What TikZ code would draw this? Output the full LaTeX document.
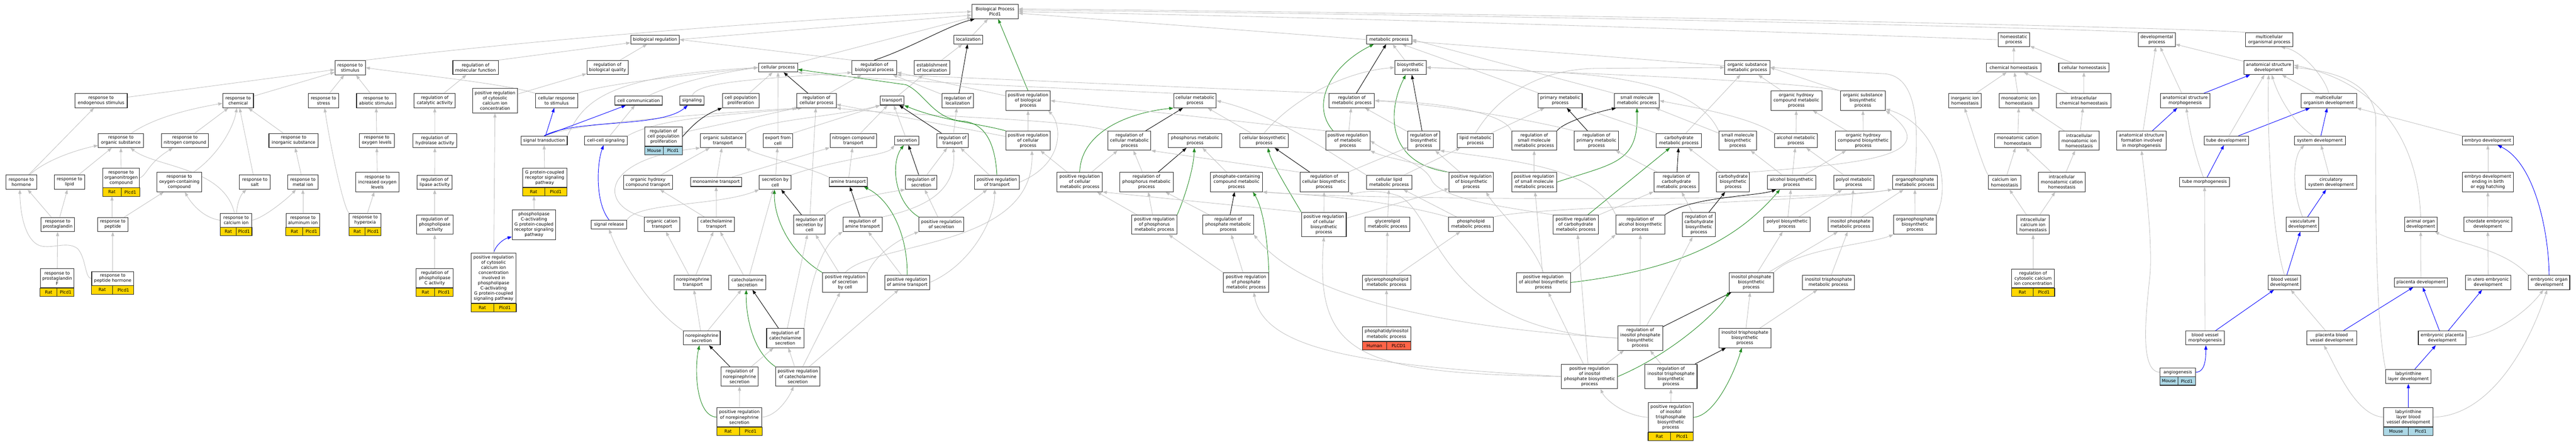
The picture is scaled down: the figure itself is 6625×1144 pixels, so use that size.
\documentclass[tikz,border=0pt]{standalone}
\usepackage{fontspec}
\setmainfont{DejaVu Sans}
\usetikzlibrary{arrows.meta,calc}
\definecolor{egray}{RGB}{192,192,192}
\definecolor{ggreen}{RGB}{34,139,34}
\definecolor{gblue}{RGB}{0,0,255}
\definecolor{ratc}{RGB}{255,215,0}
\definecolor{mousec}{RGB}{173,216,230}
\definecolor{humanc}{RGB}{255,99,71}
\definecolor{gobord}{RGB}{40,40,40}
\newcommand{\gofont}{\fontsize{11.15pt}{13.4pt}\selectfont}
\pgfdeclarelayer{bglayer}
\pgfdeclarelayer{edgelayer}
\pgfsetlayers{bglayer,edgelayer,main}
\tikzset{
  gonode/.style={draw=gobord,line width=1.4pt,fill=white,rectangle,align=center,inner sep=0pt,font=\gofont},
  gobarbox/.style={rectangle,inner sep=0pt,minimum height=21pt,draw=none},
  gocell/.style={draw=gobord,line width=1.4pt},
  gobartext/.style={inner sep=0pt,font=\gofont},
  ge/.style={draw=egray,line width=1.1pt,-{Triangle[length=11pt,width=8pt]}},
  gk/.style={draw=black,line width=1.2pt,-{Triangle[length=11pt,width=8pt]}},
  gg/.style={draw=ggreen,line width=1.2pt,-{Triangle[length=11pt,width=8pt]}},
  gu/.style={draw=gblue,line width=1.2pt,-{Triangle[length=11pt,width=8pt]}}
}
\newcommand{\gn}[6]{\node[gonode,minimum width=#4pt,minimum height=#5pt] (#1) at (#2,#3) {#6};}
\newcommand{\gobar}[5]{%
  \node[gobarbox,minimum width=#2pt,anchor=north] (#1b) at (#1.south) {};
  \filldraw[gocell,fill=#3] (#1b.north west) rectangle (#1b.south);
  \filldraw[gocell,fill=#3] (#1b.north) rectangle (#1b.south east);
  \node[gobartext] (#1s) at ($(#1b.north west)!0.5!(#1b.south)$) {#4};
  \node[gobartext] (#1g) at ($(#1b.north)!0.5!(#1b.south east)$) {#5};
}
\begin{document}
\begin{tikzpicture}[x=1pt,y=-1pt]
\useasboundingbox (0,0) rectangle (6625,1144);
\begin{pgfonlayer}{bglayer}
\fill[white] (0,0) rectangle (6625,1144);
\end{pgfonlayer}
% ---------- row 0-2
\gn{root}{2559}{30}{119.3}{36.5}{Biological Process\\Plcd1}
\gn{bioreg}{1684.5}{101.7}{125}{22.6}{biological regulation}
\gn{local}{2490.5}{101.7}{74}{22.6}{localization}
\gn{metproc}{3572.3}{101.7}{116.7}{22.6}{metabolic process}
\gn{homeo}{5179.2}{102.1}{81.6}{36.5}{homeostatic\\process}
\gn{devproc}{5546.9}{102.1}{95}{36.5}{developmental\\process}
\gn{multiorg}{5836.1}{102.1}{122.4}{36.5}{multicellular\\organismal process}
\gn{stim}{900.5}{174}{78}{37}{response to\\stimulus}
\gn{molfunc}{1223}{173.6}{116.7}{36.5}{regulation of\\molecular function}
\gn{bioqual}{1562.5}{173.6}{106.5}{36.5}{regulation of\\biological quality}
\gn{cellproc}{2001}{173.7}{100.8}{23.3}{cellular process}
\gn{regbioproc}{2248.8}{173.6}{114.8}{36.5}{regulation of\\biological process}
\gn{estloc}{2397}{173.6}{91.2}{36.5}{establishment\\of localization}
\gn{biosyn}{3627.4}{173.6}{80.4}{36.5}{biosynthetic\\process}
\gn{orgsubmet}{4493.8}{173.6}{116.1}{36.5}{organic substance\\metabolic process}
\gn{chemhomeo}{5178.9}{173.6}{139.7}{23.3}{chemical homeostasis}
\gn{cellhomeo}{5359.4}{173.6}{129.5}{23.3}{cellular homeostasis}
\gn{anatdev}{5834.5}{173.6}{128.2}{36.5}{anatomical structure\\development}
% ---------- row 3
\gn{endo}{260}{259}{134.5}{36.5}{response to\\endogenous stimulus}
\gn{chem}{612.4}{259}{79}{36.5}{response to\\chemical}
\gn{stress}{832}{259}{78.5}{36.5}{response to\\stress}
\gn{abiotic}{967.4}{259}{101}{36.5}{response to\\abiotic stimulus}
\gn{catal}{1118}{259}{106}{36.5}{regulation of\\catalytic activity}
\gn{posregcyt}{1273.2}{259}{114.8}{62.8}{positive regulation\\of cytosolic\\calcium ion\\concentration}
\gn{cellresp}{1431.4}{259}{108.4}{36.5}{cellular response\\to stimulus}
\gn{cellcomm}{1642.5}{259}{122.4}{22.6}{cell communication}
\gn{signaling}{1779.7}{259}{62.5}{22.6}{signaling}
\gn{cellpop}{1904.9}{259}{93.8}{36.5}{cell population\\proliferation}
\gn{regcellproc}{2100}{259}{101}{36.5}{regulation of\\cellular process}
\gn{transport}{2294.4}{259}{60.6}{22.6}{transport}
\gn{regloc}{2463}{259}{81.6}{36.5}{regulation of\\localization}
\gn{posregbioproc}{2643.9}{259}{114.2}{49.6}{positive regulation\\of biological\\process}
\gn{cellmet}{3073.3}{259}{109.5}{36.5}{cellular metabolic\\process}
\gn{regmetproc}{3476.6}{259}{116.7}{36.5}{regulation of\\metabolic process}
\gn{primmet}{4012.4}{259}{113.2}{36.5}{primary metabolic\\process}
\gn{smallmol}{4209.7}{259}{115.4}{36.5}{small molecule\\metabolic process}
\gn{orghydmet}{4619.8}{259}{130.8}{49.6}{organic hydroxy\\compound metabolic\\process}
\gn{orgsubbiosyn}{4791}{259}{116.1}{49.6}{organic substance\\biosynthetic\\process}
\gn{inorghomeo}{5053.6}{259}{84.2}{36.5}{inorganic ion\\homeostasis}
\gn{monohomeo}{5192.3}{259}{102.6}{36.5}{monoatomic ion\\homeostasis}
\gn{intrachem}{5359}{259}{140.3}{36.5}{intracellular\\chemical homeostasis}
\gn{anatmorph}{5619.9}{259}{127.6}{36.5}{anatomical structure\\morphogenesis}
\gn{multidev}{5989.2}{259}{142.9}{36.5}{multicellular\\organism development}
% ---------- row 4
\gn{orgsub}{310.8}{361.5}{116}{36.5}{response to\\organic substance}
\gn{nitro}{475.7}{361.5}{120.4}{36.5}{response to\\nitrogen compound}
\gn{inorg}{755}{361.5}{126.7}{36.5}{response to\\inorganic substance}
\gn{oxylev}{968.8}{361.5}{90}{36.5}{response to\\oxygen levels}
\gn{hydro}{1118.5}{361.5}{112}{36.5}{regulation of\\hydrolase activity}
\gn{sigtrans}{1399.2}{361.5}{119.2}{22.6}{signal transduction}
\gn{cellcell}{1558.4}{361.5}{109.7}{22.6}{cell-cell signaling}
\gn{regcellpop}{1706.5}{351.4}{96.3}{49}{regulation of\\cell population\\proliferation}
\gn{orgsubtrans}{1859.4}{361.5}{116.1}{36.5}{organic substance\\transport}
\gn{export}{2000.6}{361.5}{76}{36.5}{export from\\cell}
\gn{ncomptrans}{2194.6}{361.5}{119.9}{36.5}{nitrogen compound\\transport}
\gn{secretion}{2332.3}{361.5}{62.5}{22.6}{secretion}
\gn{regtrans}{2450}{361.5}{81}{36.5}{regulation of\\transport}
\gn{posregcellproc}{2643.9}{361.9}{114.2}{49.6}{positive regulation\\of cellular\\process}
\gn{regcellmet}{2904.7}{361.9}{110.4}{49.6}{regulation of\\cellular metabolic\\process}
\gn{phosmet}{3073.6}{361.5}{138}{36.5}{phosphorus metabolic\\process}
\gn{cellbiosyn}{3250.8}{361.5}{125.6}{36.5}{cellular biosynthetic\\process}
\gn{posregmet}{3466.4}{361.9}{114.2}{49.6}{positive regulation\\of metabolic\\process}
\gn{regbiosyn}{3661.8}{361.9}{81.6}{49.6}{regulation of\\biosynthetic\\process}
\gn{lipidmet}{3794.5}{361.5}{93.1}{36.5}{lipid metabolic\\process}
\gn{regsmallmol}{3945.6}{361.9}{116.1}{49.6}{regulation of\\small molecule\\metabolic process}
\gn{regprimmet}{4105.8}{361.9}{114.2}{49.6}{regulation of\\primary metabolic\\process}
\gn{carbmet}{4317.8}{361.5}{116.1}{36.5}{carbohydrate\\metabolic process}
\gn{smallmolbiosyn}{4469.3}{361.9}{97.6}{49.6}{small molecule\\biosynthetic\\process}
\gn{alcmet}{4618.8}{361.5}{111}{36.5}{alcohol metabolic\\process}
\gn{orghydbiosyn}{4791.7}{361.9}{144.1}{49.6}{organic hydroxy\\compound biosynthetic\\process}
\gn{monocathomeo}{5189.1}{361.5}{119.2}{36.5}{monoatomic cation\\homeostasis}
\gn{intramono}{5347.2}{361.9}{102.7}{49.6}{intracellular\\monoatomic ion\\homeostasis}
\gn{anatform}{5507.7}{361.9}{127.5}{49.6}{anatomical structure\\formation involved\\in morphogenesis}
\gn{tubedev}{5725.8}{361.5}{113.5}{22.6}{tube development}
\gn{sysdev}{5966.2}{361.5}{131.4}{22.6}{system development}
\gn{embryodev}{6398.3}{361.5}{130.7}{22.6}{embryo development}
% ---------- row 5
\gn{hormone}{54.9}{468.7}{78.6}{36.5}{response to\\hormone}
\gn{lipid}{178.7}{468.7}{78.5}{36.5}{response to\\lipid}
\gn{orgnitro}{311.5}{457.8}{95}{50}{response to\\organonitrogen\\compound}
\gn{oxycont}{461.2}{468.3}{115.4}{49.6}{response to\\oxygen-containing\\compound}
\gn{salt}{655.2}{468.7}{78.5}{36.5}{response to\\salt}
\gn{metal}{779}{468.7}{78.5}{36.5}{response to\\metal ion}
\gn{incoxy}{970.6}{468.3}{112}{49.6}{response to\\increased oxygen\\levels}
\gn{lipase}{1118}{469}{90.5}{36.5}{regulation of\\lipase activity}
\gn{gpcr}{1400.8}{457.5}{113.6}{49.6}{G protein-coupled\\receptor signaling\\pathway}
\gn{orghydtrans}{1666.4}{468.8}{125.6}{36.5}{organic hydroxy\\compound transport}
\gn{monotrans}{1841.8}{468}{132}{23.3}{monoamine transport}
\gn{secbycell}{1993.8}{468.8}{81.7}{36.5}{secretion by\\cell}
\gn{aminetrans}{2181.5}{468}{99}{23.3}{amine transport}
\gn{regsec}{2369.3}{468.8}{81.6}{36.5}{regulation of\\secretion}
\gn{posregtrans}{2563.8}{468.8}{114.8}{36.5}{positive regulation\\of transport}
\gn{posregcellmet}{2776.7}{468.4}{116.4}{49.6}{positive regulation\\of cellular\\metabolic process}
\gn{regphosmet}{2948.4}{468.4}{137.8}{49.6}{regulation of\\phosphorus metabolic\\process}
\gn{phoscont}{3180}{468.4}{133.3}{49.6}{phosphate-containing\\compound metabolic\\process}
\gn{regcellbiosyn}{3405.5}{468.4}{125}{49.6}{regulation of\\cellular biosynthetic\\process}
\gn{celllipid}{3572.5}{468.8}{116.1}{36.5}{cellular lipid\\metabolic process}
\gn{posregbiosyn}{3784}{468.4}{114.1}{49.6}{positive regulation\\of biosynthetic\\process}
\gn{posregsmallmol}{3945.6}{468.4}{116.1}{49.6}{positive regulation\\of small molecule\\metabolic process}
\gn{regcarbmet}{4311.4}{468.4}{116.1}{49.6}{regulation of\\carbohydrate\\metabolic process}
\gn{carbbiosyn}{4457.2}{468.4}{84.8}{49.6}{carbohydrate\\biosynthetic\\process}
\gn{alcbiosyn}{4607.7}{468.8}{125.6}{36.5}{alcohol biosynthetic\\process}
\gn{polyolmet}{4767.8}{468.8}{104}{36.5}{polyol metabolic\\process}
\gn{organophosmet}{4924.7}{468.8}{115.4}{36.5}{organophosphate\\metabolic process}
\gn{cahomeo}{5155.3}{468.8}{83.6}{36.5}{calcium ion\\homeostasis}
\gn{intramonocat}{5302.6}{468.4}{120.6}{49.6}{intracellular\\monoatomic cation\\homeostasis}
\gn{tubemorph}{5669.7}{468.4}{127.5}{23.3}{tube morphogenesis}
\gn{circsys}{5994.9}{468.8}{131.4}{36.5}{circulatory\\system development}
\gn{embryobirth}{6398.3}{468.4}{130.7}{49.6}{embryo development\\ending in birth\\or egg hatching}
% ---------- row 6
\gn{prostag}{148.3}{577.5}{87}{36.5}{response to\\prostaglandin}
\gn{peptide}{290}{577.5}{78.6}{36.5}{response to\\peptide}
\gn{calcium}{607.4}{566.6}{80.7}{36}{response to\\calcium ion}
\gn{alum}{779}{566.6}{87}{36}{response to\\aluminum ion}
\gn{hyper}{939}{566.6}{81.4}{36}{response to\\hyperoxia}
\gn{phlact}{1118}{578}{94.5}{49.6}{regulation of\\phospholipase\\activity}
\gn{plc}{1373.3}{578.2}{112.3}{76.5}{phospholipase\\C-activating\\G protein-coupled\\receptor signaling\\pathway}
\gn{sigrel}{1566.3}{577.5}{91.2}{22.6}{signal release}
\gn{orgcat}{1702.5}{577.1}{90.5}{36.5}{organic cation\\transport}
\gn{catetrans}{1842.2}{577.1}{94.3}{36.5}{catecholamine\\transport}
\gn{regsecbycell}{2081.8}{578}{81.5}{49.6}{regulation of\\secretion by\\cell}
\gn{regamine}{2218.2}{577.1}{100.7}{36.5}{regulation of\\amine transport}
\gn{posregsec}{2421}{577.1}{114.8}{36.5}{positive regulation\\of secretion}
\gn{posregphosmet}{2968.8}{578}{116}{49.6}{positive regulation\\of phosphorus\\metabolic process}
\gn{regphosphate}{3158.7}{578}{130.1}{49.6}{regulation of\\phosphate metabolic\\process}
\gn{posregcellbiosyn}{3404.8}{577.8}{114.8}{62.7}{positive regulation\\of cellular\\biosynthetic\\process}
\gn{glycerolipid}{3568.4}{577.1}{115.4}{36.5}{glycerolipid\\metabolic process}
\gn{phospholipid}{3783}{577.1}{116}{36.5}{phospholipid\\metabolic process}
\gn{posregcarbmet}{4052.6}{578}{115.9}{49.6}{positive regulation\\of carbohydrate\\metabolic process}
\gn{regalcbiosyn}{4218.6}{578}{125.6}{49.6}{regulation of\\alcohol biosynthetic\\process}
\gn{regcarbbiosyn}{4369.2}{577.8}{84.8}{62.7}{regulation of\\carbohydrate\\biosynthetic\\process}
\gn{polyolbiosyn}{4596.2}{577.1}{119.3}{36.5}{polyol biosynthetic\\process}
\gn{inosphosmet}{4758.8}{577.1}{115.4}{36.5}{inositol phosphate\\metabolic process}
\gn{organophosbiosyn}{4925}{578}{109.7}{49.6}{organophosphate\\biosynthetic\\process}
\gn{intraca}{5228.7}{578}{83.5}{49.6}{intracellular\\calcium ion\\homeostasis}
\gn{vascdev}{5921.8}{577.1}{83.5}{36.5}{vasculature\\development}
\gn{animalorg}{6225.5}{577.1}{83.5}{36.5}{animal organ\\development}
\gn{chordate}{6398}{577.1}{123.7}{36.5}{chordate embryonic\\development}
% ---------- row 7
\gn{prostagF}{147}{716}{87}{49.1}{response to\\prostaglandin\\F}
\gn{pephorm}{290}{716.5}{108.3}{36}{response to\\peptide hormone}
\gn{phlC}{1118}{715.8}{95}{49.6}{regulation of\\phospholipase\\C activity}
\gn{posregcytplc}{1269.4}{715.75}{116}{128.5}{positive regulation\\of cytosolic\\calcium ion\\concentration\\involved in\\phospholipase\\C-activating\\G protein-coupled\\signaling pathway}
\gn{netrans}{1781.8}{726.7}{95}{36.5}{norepinephrine\\transport}
\gn{catesec}{1922.2}{726.7}{95}{36.5}{catecholamine\\secretion}
\gn{posregsecbycell}{2173.3}{726.7}{115.5}{49.6}{positive regulation\\of secretion\\by cell}
\gn{posregamine}{2333}{726.7}{114.8}{36.5}{positive regulation\\of amine transport}
\gn{posregphosphate}{3204.6}{726.7}{116.1}{49.6}{positive regulation\\of phosphate\\metabolic process}
\gn{glycerophos}{3565.9}{726.7}{124.3}{36.5}{glycerophospholipid\\metabolic process}
\gn{posregalcbiosyn}{3969.4}{726.7}{139.5}{49.6}{positive regulation\\of alcohol biosynthetic\\process}
\gn{inosphosbiosyn}{4503.8}{726.7}{114.1}{49.6}{inositol phosphate\\biosynthetic\\process}
\gn{inostrismet}{4702.4}{726.7}{134}{36.5}{inositol trisphosphate\\metabolic process}
\gn{regcytca}{5228.7}{716.1}{110.3}{48.8}{regulation of\\cytosolic calcium\\ion concentration}
\gn{bvdev}{5875.3}{726.7}{83.6}{36.5}{blood vessel\\development}
\gn{placentadev}{6226.1}{726.7}{137.1}{23.3}{placenta development}
\gn{inutero}{6399}{726.7}{116.7}{36.5}{in utero embryonic\\development}
\gn{embryoorgan}{6555.8}{726.7}{106.5}{36.5}{embryonic organ\\development}
% ---------- row 8
\gn{nesec}{1804.8}{869.4}{95}{36.5}{norepinephrine\\secretion}
\gn{regcatesec}{2019.4}{869.7}{95.7}{49.6}{regulation of\\catecholamine\\secretion}
\gn{phosinositol}{3565.9}{859.5}{124.3}{36.5}{phosphatidylinositol\\metabolic process}
\gn{reginosphos}{4218.4}{869.7}{114.8}{62.7}{regulation of\\inositol phosphate\\biosynthetic\\process}
\gn{inostrisbiosyn}{4487.4}{869.7}{134}{49.6}{inositol trisphosphate\\biosynthetic\\process}
\gn{bvmorph}{5671}{869.4}{99.5}{36.5}{blood vessel\\morphogenesis}
\gn{placentabv}{5996.8}{869.4}{127.6}{36.5}{placenta blood\\vessel development}
\gn{embplacenta}{6281}{869.4}{123.1}{36.5}{embryonic placenta\\development}
% ---------- row 9
\gn{regnesec}{1902}{968.5}{94.4}{49.6}{regulation of\\norepinephrine\\secretion}
\gn{posregcatesec}{2051.8}{968.5}{114.5}{49.6}{positive regulation\\of catecholamine\\secretion}
\gn{posreginosphos}{4088}{968.6}{144.5}{62}{positive regulation\\of inositol\\phosphate biosynthetic\\process}
\gn{reginostris}{4297.5}{968.6}{134}{62.7}{regulation of\\inositol trisphosphate\\biosynthetic\\process}
\gn{angio}{5600.8}{957.6}{91.9}{22.7}{angiogenesis}
\gn{labyrinth}{6193.8}{968.6}{116.1}{36.5}{labyrinthine\\layer development}
% ---------- row 10
\gn{posregnesec}{1901.5}{1073.2}{116}{49.6}{positive regulation\\of norepinephrine\\secretion}
\gn{posreginostris}{4296.8}{1073.6}{116}{75.2}{positive regulation\\of inositol\\trisphosphate\\biosynthetic\\process}
\gn{labbv}{6193.8}{1073.2}{126.3}{49.6}{labyrinthine\\layer blood\\vessel development}
% ---------- annotation bars
\gobar{orgnitro}{95}{ratc}{Rat}{Plcd1}
\gobar{calcium}{80.7}{ratc}{Rat}{Plcd1}
\gobar{alum}{87}{ratc}{Rat}{Plcd1}
\gobar{hyper}{81.4}{ratc}{Rat}{Plcd1}
\gobar{prostagF}{87}{ratc}{Rat}{Plcd1}
\gobar{pephorm}{108.3}{ratc}{Rat}{Plcd1}
\gobar{phlC}{95}{ratc}{Rat}{Plcd1}
\gobar{gpcr}{113.6}{ratc}{Rat}{Plcd1}
\gobar{regcellpop}{96.3}{mousec}{Mouse}{Plcd1}
\gobar{posregcytplc}{116}{ratc}{Rat}{Plcd1}
\gobar{posregnesec}{116}{ratc}{Rat}{Plcd1}
\gobar{phosinositol}{124.3}{humanc}{Human}{PLCD1}
\gobar{posreginostris}{116}{ratc}{Rat}{Plcd1}
\gobar{regcytca}{110.3}{ratc}{Rat}{Plcd1}
\gobar{angio}{91.9}{mousec}{Mouse}{Plcd1}
\gobar{labbv}{126.3}{mousec}{Mouse}{Plcd1}
% ================= edges
\begin{pgfonlayer}{edgelayer}
% to root
\draw[ge] (stim.north east) .. controls (1300,110) and (2000,50) .. (root.west);
\draw[ge] (bioreg.east) -- ($(root.south west)+(0,-10)$);
\draw[ge] (cellproc.north east) -- ($(root.south west)+(0,-4)$);
\draw[gk] (regbioproc.north) .. controls (2340,125) and (2440,65) .. ($(root.south west)+(8,0)$);
\draw[ge] (local) -- (root);
\draw[gg] (posregbioproc.north) -- ($(root.south)+(8,0)$);
\draw[ge] (metproc.west) -- ($(root.east)+(0,4)$);
\draw[ge] (homeo.west) .. controls (4500,80) and (3500,45) .. ($(root.east)+(0,0)$);
\draw[ge] (devproc.north west) .. controls (5300,72) and (4000,40) .. ($(root.east)+(0,-4)$);
\draw[ge] (multiorg.north west) .. controls (5600,70) and (4000,35) .. ($(root.east)+(0,-7)$);
% response branch
\draw[ge] (endo) -- (stim);
\draw[ge] (chem) -- (stim);
\draw[ge] (stress) -- (stim);
\draw[ge] (abiotic) -- (stim);
\draw[ge] (cellresp.north west) .. controls (1300,215) and (1050,190) .. (stim.east);
\draw[ge] (orgsub) .. controls (400,300) and (500,278) .. (chem);
\draw[ge] (nitro) -- (chem);
\draw[ge] (inorg) -- (chem);
\draw[ge] (salt) -- (chem);
\draw[ge] (oxycont) .. controls (560,400) and (600,330) .. (chem);
\draw[ge] (hormone) -- (endo);
\draw[ge] (hormone) .. controls (120,410) and (200,385) .. (orgsub);
\draw[ge] (lipid) -- (orgsub);
\draw[ge] (orgnitro) -- (orgsub);
\draw[ge] (calcium) .. controls (575,430) and (400,430) .. (orgsub);
\draw[ge] (orgnitro.east) .. controls (378,450) and (380,420) .. (nitro);
\draw[ge] (metal) -- (inorg);
\draw[ge] (incoxy) -- (oxylev);
\draw[ge] (oxylev) -- (abiotic);
\draw[ge] (hyper.north west) .. controls (885,540) and (850,380) .. (stress);
\draw[ge] (hyper) -- (incoxy);
\draw[ge] ($(peptide.north)+(-2,0)$) -- ($(orgnitrob.south)+(-23.5,0)$);
\draw[ge] (peptide) -- (oxycont);
\draw[ge] (prostag) -- (hormone);
\draw[ge] (prostag) -- (lipid);
\draw[ge] (calcium.west) .. controls (520,560) and (490,520) .. (oxycont);
\draw[ge] (calcium) .. controls (610,520) and (620,500) .. (salt);
\draw[ge] (calcium.east) .. controls (680,560) and (740,510) .. (metal);
\draw[ge] (alum) -- (metal);
\draw[ge] (catal) -- (molfunc);
\draw[ge] (hydro) -- (catal);
\draw[ge] (lipase) -- (hydro);
\draw[ge] (phlact) -- (lipase);
\draw[ge] (phlC) -- (phlact);
\draw[ge] (prostagF) -- (prostag);
\draw[ge] (pephorm) -- (peptide);
\draw[ge] (pephorm.west) .. controls (218,716) and (222,665) .. (200,640) .. controls (170,615) and (120,650) .. (90,625) .. controls (60,600) and (52,540) .. ($(hormone.south)+(-4,0)$);
% regulation / signalling / transport (left-middle)
\draw[ge] (molfunc.north east) -- (bioreg);
\draw[ge] (bioqual) -- (bioreg);
\draw[ge] (regbioproc.north west) -- (bioreg.east);
\draw[ge] (posregcyt) -- (bioqual);
\draw[ge] (cellresp.north east) .. controls (1550,215) and (1800,190) .. (cellproc.west);
\draw[ge] (cellcomm) .. controls (1720,220) and (1830,190) .. (cellproc.west);
\draw[ge] (sigtrans.north east) .. controls (1500,260) and (1560,195) .. (cellproc.west);
\draw[ge] (signaling.north) .. controls (1790,215) and (1900,205) .. ($(regbioproc.south west)+(0,-6)$);
\draw[ge] (cellpop) -- (cellproc);
\draw[ge] (export) -- (cellproc);
\draw[gk] (regcellproc) -- (cellproc);
\draw[ge] (regcellproc) -- (regbioproc);
\draw[ge] (sigtrans.north) .. controls (1480,320) and (1700,300) .. ($(regcellproc.south west)+(6,0)$);
\draw[ge] (cellcell.north east) .. controls (1700,300) and (1900,295) .. ($(regcellproc.south west)+(14,0)$);
\draw[ge] (regcellpop) -- (regcellproc.south west);
\draw[gu] (sigtrans) -- (cellresp);
\draw[gu] (sigtrans.north) .. controls (1480,320) and (1560,290) .. ($(cellcomm.south)+(-33,0)$);
\draw[gu] (sigtrans.north) .. controls (1480,305) and (1700,330) .. ($(signaling.south)+(-11,0)$);
\draw[ge] (gpcr) -- (sigtrans);
\draw[ge] (plc) -- (plc.north |- gpcrb.south);
\draw[gu] (posregcytplc.north) .. controls (1275,630) and (1295,615) .. ($(plc.south west)+(0,-8)$);
\draw[ge] (posregcytplc) -- (posregcyt);
\draw[gu] (sigrel.north) .. controls (1530,520) and (1535,420) .. ($(cellcell.south)+(-6,0)$);
\draw[ge] (sigrel.north east) .. controls (1640,520) and (1850,530) .. (secbycell.south west);
\draw[gk] (regcellpop.east) .. controls (1775,330) and (1800,300) .. (cellpop);
\draw[ge] (cellcell) -- (cellcomm);
\draw[ge] (orgsubtrans.north east) .. controls (1950,310) and (2150,300) .. (transport.south west);
\draw[ge] (export.north east) -- (transport.south west);
\draw[ge] (orghydtrans) -- (orgsubtrans);
\draw[ge] (monotrans) -- (orgsubtrans);
\draw[ge] (monotrans) -- (ncomptrans);
\draw[ge] (orgcat.north west) .. controls (1540,530) and (1540,410) .. (orgsubtrans.south west);
\draw[ge] (catetrans) -- (orghydtrans);
\draw[ge] (catetrans) -- (monotrans);
\draw[ge] (netrans) -- (orgcat);
\draw[ge] (netrans) -- (catetrans);
\draw[ge] (catesec) -- (catetrans);
\draw[ge] (catesec) -- (secbycell);
\draw[gg] (posregsecbycell.north west) .. controls (2030,650) and (1990,560) .. ($(secbycell.south)+(-2,0)$);
\draw[gk] (regsecbycell) -- (secbycell);
\draw[ge] (secbycell) -- (export);
\draw[ge] (secbycell.north east) .. controls (2150,410) and (2280,400) .. (secretion.south west);
\draw[ge] (nesec.north west) .. controls (1680,800) and (1600,680) .. (sigrel.south);
\draw[ge] (nesec) -- (netrans);
\draw[ge] (nesec) -- (catesec);
\draw[gk] (regcatesec) -- (catesec);
\draw[gg] (posregcatesec.north west) .. controls (1930,900) and (1918,800) .. ($(catesec.south)+(-3,0)$);
\draw[ge] (regcatesec) -- (regsecbycell);
\draw[ge] (regcatesec.north east) .. controls (2075,780) and (2100,640) .. (regamine.south west);
\draw[gk] (regnesec) -- (nesec);
\draw[ge] (regnesec) -- (regcatesec);
\draw[ge] (posregcatesec) -- (regcatesec);
\draw[ge] (posregcatesec) -- (posregsecbycell);
\draw[ge] (posregcatesec) -- (posregamine);
\draw[gg] (posregnesec.west) .. controls (1790,1070) and (1785,950) .. ($(nesec.south)+(-6,0)$);
\draw[ge] (posregnesec) -- (regnesec);
\draw[ge] (posregnesec.east) .. controls (2000,1070) and (2030,1020) .. (posregcatesec);
% localization / transport (middle)
\draw[ge] (estloc) -- (local);
\draw[gk] (regloc) -- (local);
\draw[ge] (transport) -- (estloc);
\draw[ge] (regloc) -- (regbioproc);
\draw[ge] (posregbioproc) -- (regbioproc);
\draw[ge] (posregcellproc) -- (posregbioproc);
\draw[ge] (posregcellproc) -- (regcellproc);
\draw[ge] (regcellmet.north west) .. controls (2750,305) and (2350,300) .. (regcellproc.south east);
\draw[ge] (secretion) -- (transport);
\draw[ge] (ncomptrans) -- (transport);
\draw[gk] (regtrans) -- (transport);
\draw[gg] (posregtrans.north) .. controls (2560,380) and (2540,320) .. (2480,312) .. controls (2400,308) and (2380,240) .. (2330,218) -- ($(cellproc.east)+(0,5)$);
\draw[gg] (posregcellproc.north west) .. controls (2520,318) and (2420,310) .. (transport.south east);
\draw[ge] (regtrans) -- (regloc);
\draw[ge] (posregtrans) -- (regtrans);
\draw[ge] (posregtrans.east) .. controls (2740,420) and (2730,320) .. ($(posregbioproc.south east)+(-6,0)$);
\draw[gk] (regsec) -- (secretion);
\draw[ge] (regsec) -- (regtrans);
\draw[gg] (posregsec.north west) .. controls (2300,520) and (2290,420) .. ($(secretion.south)+(-8,0)$);
\draw[ge] (posregsec) -- (regsec);
\draw[ge] (posregsec) -- (posregtrans);
\draw[ge] (regamine.north east) .. controls (2400,530) and (2460,480) .. (regtrans);
\draw[gk] (regamine) -- (aminetrans);
\draw[ge] (regsecbycell.north east) .. controls (2150,520) and (2250,500) .. (regsec.south west);
\draw[ge] (regsecbycell) -- ($(regcellproc.south)+(-2,0)$);
\draw[gg] (posregamine.north) .. controls (2335,620) and (2300,520) .. ($(aminetrans.south east)+(-10,0)$);
\draw[ge] (posregamine) -- (regamine);
\draw[ge] (posregamine.east) .. controls (2500,680) and (2560,560) .. ($(posregtrans.south)+(-6,0)$);
\draw[ge] (posregsecbycell) -- (regsecbycell);
\draw[ge] (posregsecbycell.north east) .. controls (2250,660) and (2300,620) .. (posregsec.south west);
\draw[ge] (posregsecbycell.north) .. controls (2250,620) and (2660,640) .. ($(posregcellproc.south)+(10,0)$);
\draw[ge] (aminetrans) -- (ncomptrans);
\draw[ge] (aminetrans.north west) .. controls (2080,430) and (1950,400) .. (orgsubtrans.south east);
% cellular metabolism
\draw[gk] (regcellmet) -- (cellmet);
\draw[gg] (posregcellmet.north) .. controls (2780,340) and (2900,290) .. (cellmet.south west);
\draw[ge] (posregcellmet) -- (regcellmet);
\draw[ge] (posregcellmet) -- (posregcellproc);
\draw[ge] (regphosmet) -- (regcellmet);
\draw[gk] (regphosmet) -- (phosmet);
\draw[ge] (posregphosmet) -- (regphosmet);
\draw[ge] (posregphosmet) -- (posregcellmet);
\draw[gg] (posregphosmet.north east) .. controls (3050,500) and (3070,430) .. ($(phosmet.south)+(-2,0)$);
\draw[ge] (cellmet.north west) .. controls (2700,225) and (2300,210) .. (cellproc.south east);
\draw[ge] (regmetproc.north west) -- (regbioproc.south east);
\draw[ge] (posregmet.north west) -- (posregbioproc.east);
% metabolism
\draw[ge] (biosyn) -- (metproc);
\draw[gk] (regmetproc) -- (metproc);
\draw[gg] ($(posregmet.north)+(-38,0)$) .. controls (3370,270) and (3420,170) .. ($(metproc.south west)+(20,0)$);
\draw[ge] (posregmet) -- (regmetproc);
\draw[gk] (regbiosyn) -- (biosyn);
\draw[ge] (regbiosyn) -- (regmetproc);
\draw[gg] (posregbiosyn.north west) .. controls (3560,420) and (3570,280) .. ($(biosyn.south)+(-12,0)$);
\draw[ge] (posregbiosyn) -- (regbiosyn);
\draw[ge] (posregbiosyn.north west) .. controls (3650,420) and (3560,405) .. (posregmet.south east);
\draw[ge] (posregcarbmet.north west) .. controls (3850,530) and (3700,510) .. (3680,460) .. controls (3660,420) and (3580,400) .. (posregmet.east);
\draw[ge] (cellbiosyn.north) .. controls (3320,260) and (3450,185) .. (biosyn.west);
\draw[ge] (cellbiosyn) -- (cellmet);
\draw[gk] (regcellbiosyn) -- (cellbiosyn);
\draw[ge] (regcellbiosyn) -- (regbiosyn);
\draw[ge] (regcellbiosyn.north west) -- (regcellmet.south east);
\draw[gg] (posregcellbiosyn.north west) .. controls (3320,500) and (3270,420) .. ($(cellbiosyn.south)+(10,0)$);
\draw[ge] (posregcellbiosyn) -- (regcellbiosyn);
\draw[ge] (posregcellbiosyn) -- (posregbiosyn);
\draw[ge] (posregcellbiosyn.north west) -- (posregcellmet.south east);
\draw[ge] (phoscont) -- (phosmet);
\draw[gk] (regphosphate) -- (phoscont);
\draw[ge] (regphosphate) -- (regphosmet);
\draw[gg] (posregphosphate.north east) .. controls (3260,620) and (3250,540) .. ($(phoscont.south east)+(-25,0)$);
\draw[ge] (posregphosphate) -- (regphosphate);
\draw[ge] (posregphosphate.north west) -- (posregphosmet);
\draw[ge] (celllipid) -- (lipidmet);
\draw[ge] (celllipid.north west) .. controls (3460,420) and (3300,300) .. (cellmet.east);
\draw[ge] (lipidmet) -- (primmet);
\draw[ge] (lipidmet.north) .. controls (3850,250) and (3950,180) .. (4100,176) -- (orgsubmet.west);
\draw[gk] (regsmallmol.north east) .. controls (4020,315) and (4100,290) .. ($(smallmol.south west)+(5,0)$);
\draw[gk] (regprimmet) -- (primmet);
\draw[ge] (regsmallmol.north west) .. controls (3870,290) and (3700,262) .. (regmetproc.east);
\draw[ge] (posregsmallmol) -- (regsmallmol);
\draw[gg] (posregsmallmol.east) .. controls (4150,420) and (4215,420) .. (smallmol.south);
\draw[ge] (posregalcbiosyn) -- (posregsmallmol);
\draw[ge] (posregalcbiosyn.north) .. controls (3940,620) and (3850,540) .. ($(posregbiosyn.south east)+(-20,0)$);
\draw[gg] (posregalcbiosyn.east) .. controls (4350,690) and (4480,600) .. ($(alcbiosyn.south)+(-30,0)$);
\draw[ge] (posregalcbiosyn.north east) -- (regalcbiosyn.south west);
\draw[ge] (posreginosphos) -- (posregalcbiosyn);
\draw[ge] (posreginosphos.west) .. controls (3500,940) and (3250,900) .. ($(posregphosphate.south)+(20,0)$);
\draw[ge] (posreginosphos.west) .. controls (3500,960) and (3380,920) .. (posregcellbiosyn.south);
\draw[ge] (reginosphos.west) .. controls (3500,830) and (3300,700) .. (regphosphate.south east);
\draw[ge] (reginosphos.west) .. controls (3700,850) and (3700,560) .. (3600,505) .. controls (3530,480) and (3480,500) .. (regcellbiosyn.south east);
\draw[ge] (glycerolipid) -- (celllipid);
\draw[ge] (phospholipid) -- (celllipid);
\draw[ge] (phospholipid.north west) .. controls (3550,510) and (3350,500) .. (phoscont.south east);
\draw[ge] (phospholipid.north east) .. controls (3950,530) and (4600,525) .. (organophosmet.south west);
\draw[ge] (organophosmet.south west) .. controls (4700,520) and (3500,515) .. (phoscont.south east);
\draw[ge] (glycerophos) -- (glycerolipid);
\draw[ge] (glycerophos) -- (phospholipid);
\draw[ge] (phosinositol) -- (glycerophos);
% organic substance metabolism
\draw[ge] (orgsubmet) -- (metproc);
\draw[ge] (primmet) -- (metproc);
\draw[ge] (smallmol.north west) -- (metproc.east);
\draw[ge] (carbmet) -- (orgsubmet);
\draw[ge] (carbmet.north west) -- (primmet.south east);
\draw[ge] (smallmolbiosyn) -- (smallmol);
\draw[ge] (smallmolbiosyn.north west) .. controls (4380,250) and (4250,200) .. (4000,186) -- (biosyn.east);
\draw[ge] (orgsubbiosyn.north west) .. controls (4650,215) and (4300,195) .. (biosyn.east);
\draw[ge] (alcmet.north west) .. controls (4500,300) and (4350,275) .. (smallmol.east);
\draw[ge] (alcmet) -- (orghydmet);
\draw[ge] (orghydmet) -- (orgsubmet);
\draw[ge] (orgsubbiosyn.north west) -- (orgsubmet.east);
\draw[ge] (orghydbiosyn) -- (orghydmet);
\draw[ge] (orghydbiosyn) -- (orgsubbiosyn);
\draw[ge] (organophosmet.north) .. controls (4935,320) and (4930,200) .. (4850,190) -- (orgsubmet.east);
\draw[ge] (regprimmet.north west) .. controls (3900,300) and (3700,270) .. (regmetproc.east);
\draw[gk] (regcarbmet) -- (carbmet);
\draw[ge] (regcarbmet) -- (regprimmet);
\draw[ge] (carbbiosyn) -- (carbmet);
\draw[ge] (carbbiosyn.north east) .. controls (4800,420) and (5000,400) .. (orgsubbiosyn.south east);
\draw[ge] (alcbiosyn) -- (alcmet);
\draw[ge] (alcbiosyn) -- (smallmolbiosyn);
\draw[ge] (alcbiosyn) -- (orghydbiosyn);
\draw[ge] (polyolmet) -- (alcmet);
\draw[ge] (polyolbiosyn) -- (alcbiosyn);
\draw[ge] (polyolbiosyn) -- (polyolmet);
\draw[ge] (inosphosmet) -- (polyolmet);
\draw[ge] (inosphosmet) -- (organophosmet);
\draw[ge] (organophosbiosyn) -- (organophosmet);
\draw[ge] (organophosbiosyn.north east) .. controls (5020,470) and (4980,320) .. ($(orgsubbiosyn.south east)+(0,-4)$);
\draw[ge] (inosphosbiosyn) -- (polyolbiosyn);
\draw[ge] (inosphosbiosyn) -- (inosphosmet);
\draw[ge] (inosphosbiosyn.north east) .. controls (4620,640) and (4800,630) .. (organophosbiosyn.south west);
\draw[ge] (inostrismet) -- (inosphosmet);
\draw[ge] (inostrisbiosyn) -- (inosphosbiosyn);
\draw[ge] (inostrisbiosyn) -- (inostrismet);
\draw[gk] (reginosphos) -- (inosphosbiosyn);
\draw[ge] (reginosphos) -- (regalcbiosyn);
\draw[ge] (reginosphos) -- (regcarbbiosyn);
\draw[gk] (reginostris) -- (inostrisbiosyn);
\draw[ge] (reginostris) -- (reginosphos);
\draw[gg] (posreginosphos.east) .. controls (4300,910) and (4420,800) .. (inosphosbiosyn.south west);
\draw[ge] (posreginosphos) -- (reginosphos);
\draw[ge] ($(posreginosphos.north)+(-4,0)$) -- ($(posregcarbmet.south)+(5,0)$);
\draw[ge] (posreginostris.west) .. controls (4180,1070) and (4130,1030) .. ($(posreginosphos.south)+(28,0)$);
\draw[ge] (posreginostris) -- (reginostris);
\draw[gg] (posreginostris.east) .. controls (4410,1070) and (4460,960) .. ($(inostrisbiosyn.south)+(-8,0)$);
\draw[gk] (regalcbiosyn.north east) .. controls (4350,505) and (4520,505) .. ($(alcbiosyn.south)+(-40,0)$);
\draw[ge] (regalcbiosyn.north west) .. controls (4100,430) and (3900,415) .. (regbiosyn.south east);
\draw[gk] (regcarbbiosyn) -- (carbbiosyn);
\draw[ge] (regcarbbiosyn) -- (regcarbmet);
\draw[gg] (posregcarbmet) -- (carbmet);
\draw[ge] (posregcarbmet) -- (regcarbmet);
% homeostasis
\draw[ge] (chemhomeo) -- (homeo);
\draw[ge] (cellhomeo) -- (homeo);
\draw[ge] (inorghomeo) -- (chemhomeo);
\draw[ge] (monohomeo) -- (chemhomeo);
\draw[ge] (intrachem) -- (chemhomeo);
\draw[ge] (intrachem) -- (cellhomeo);
\draw[ge] (monocathomeo) -- (monohomeo);
\draw[ge] (intramono) -- (monohomeo);
\draw[ge] (intramono) -- (intrachem);
\draw[ge] (cahomeo) -- (monocathomeo);
\draw[ge] (cahomeo.north west) .. controls (5100,430) and (5070,330) .. ($(inorghomeo.south)+(-1,0)$);
\draw[ge] (intramonocat) -- (monocathomeo);
\draw[ge] (intramonocat) -- (intramono);
\draw[ge] (intraca) -- (cahomeo);
\draw[ge] (intraca) -- (intramonocat);
\draw[ge] (regcytca) -- (intraca);
% development
\draw[ge] (anatdev) -- (devproc);
\draw[ge] (anatmorph) -- (devproc);
\draw[gu] (anatmorph) -- (anatdev);
\draw[ge] (anatform) -- (devproc);
\draw[gu] (anatform) -- (anatmorph);
\draw[ge] (angio.west) .. controls (5500,955) and (5520,800) .. (5530,700) .. controls (5535,600) and (5515,450) .. (anatform.south);
\draw[gu] (angio.east) .. controls (5672,957) and (5673,920) .. ($(bvmorph.south)+(2,0)$);
\draw[ge] ($(tubemorph.north)+(-3,0)$) .. controls (5645,400) and (5630,330) .. ($(anatmorph.south)+(3,0)$);
\draw[gu] (tubemorph) -- (tubedev);
\draw[ge] (bvmorph) -- (tubemorph);
\draw[gu] (bvmorph) -- (bvdev);
\draw[ge] (tubedev) -- (anatdev);
\draw[gu] (tubedev) -- (multidev);
\draw[ge] ($(sysdev.north)+(-16,0)$) .. controls (5900,320) and (5860,250) .. ($(anatdev.south)+(8,0)$);
\draw[gu] (sysdev) -- (multidev);
\draw[ge] (multidev) -- (anatdev);
\draw[ge] (multidev.north) .. controls (5980,200) and (5920,130) .. ($(multiorg.south)+(30,0)$);
\draw[ge] (circsys) -- (sysdev);
\draw[ge] (vascdev.north) .. controls (5890,480) and (5900,400) .. ($(sysdev.south)+(-40,0)$);
\draw[gu] (vascdev) -- (circsys);
\draw[gu] (bvdev) -- (vascdev);
\draw[ge] (bvdev.north) .. controls (5840,600) and (5830,300) .. (anatdev.south);
\draw[ge] (placentabv) -- (bvdev);
\draw[gu] (placentabv) -- (placentadev);
\draw[ge] (labbv.west) .. controls (6060,1070) and (6010,950) .. ($(placentabv.south)+(-20,0)$);
\draw[gu] (labbv) -- (labyrinth);
\draw[ge] (labbv.east) .. controls (6400,1070) and (6500,900) .. ($(embryoorgan.south)+(-5,0)$);
\draw[gu] (labyrinth) -- (embplacenta);
\draw[ge] (labyrinth.north west) .. controls (6105,800) and (6110,400) .. (6110,300) .. controls (6100,220) and (6020,185) .. (anatdev.east);
\draw[gu] (embplacenta) -- (placentadev);
\draw[gu] (embplacenta) -- (inutero);
\draw[ge] (embplacenta.east) .. controls (6420,860) and (6500,800) .. ($(embryoorgan.south)+(-15,0)$);
\draw[ge] (placentadev) -- (animalorg);
\draw[ge] (animalorg.north) .. controls (6220,400) and (6150,220) .. ($(anatdev.east)+(0,-6)$);
\draw[ge] (embryoorgan.north west) .. controls (6440,640) and (6330,630) .. ($(animalorg.south east)+(-6,0)$);
\draw[gu] (embryoorgan.north) .. controls (6555,600) and (6520,420) .. ($(embryodev.south)+(25,0)$);
\draw[ge] (inutero) -- (chordate);
\draw[ge] (chordate) -- (embryobirth);
\draw[ge] (embryobirth) -- (embryodev);
\draw[ge] (embryodev.north west) -- (multidev.south east);
\end{pgfonlayer}
\end{tikzpicture}
\end{document}
